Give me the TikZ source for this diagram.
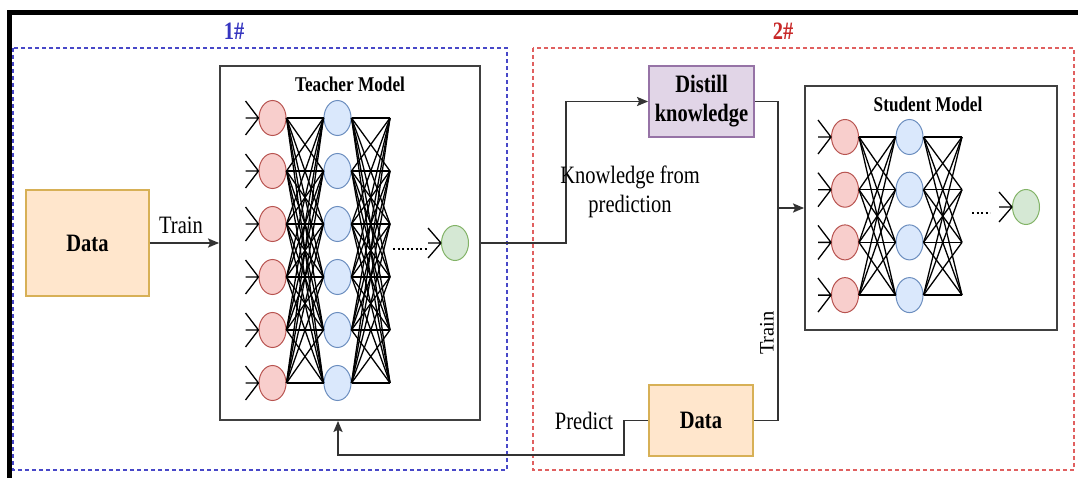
\documentclass[tikz,border=0pt]{standalone}
\usepackage{fontspec}
\setmainfont[FakeStretch=0.82]{Liberation Serif}
\usetikzlibrary{shapes.geometric,arrows.meta}

\definecolor{inFill}{HTML}{F8CECC}
\definecolor{inDraw}{HTML}{B85450}
\definecolor{hidFill}{HTML}{DAE8FC}
\definecolor{hidDraw}{HTML}{6C8EBF}
\definecolor{outFill}{HTML}{D5E8D4}
\definecolor{outDraw}{HTML}{82B366}
\definecolor{dataFill}{HTML}{FFE6CC}
\definecolor{dataDraw}{HTML}{D7B056}
\definecolor{distFill}{HTML}{E1D5E7}
\definecolor{distDraw}{HTML}{9673A6}
\definecolor{zoneBlue}{HTML}{4848C8}
\definecolor{zoneRed}{HTML}{E06060}
\definecolor{tagBlue}{HTML}{3535C0}
\definecolor{tagRed}{HTML}{C82828}

\tikzset{
  box/.style={draw=black!75, line width=1.8pt},
  conn/.style={draw=black!80, line width=1.8pt},
  arr/.style={conn, -{Stealth[length=11pt,width=9pt,inset=2pt]}},
  wire/.style={draw=black, line width=1.3pt},
  neuron/.style={ellipse, minimum width=27pt, minimum height=35pt, inner sep=0pt, line width=1pt},
  inn/.style={neuron, fill=inFill, draw=inDraw},
  hid/.style={neuron, fill=hidFill, draw=hidDraw},
  outn/.style={neuron, fill=outFill, draw=outDraw},
  dots/.style={line width=2.6pt, dash pattern=on 2.2pt off 2.3pt},
  lbl/.style={font=\fontsize{25}{29}\selectfont},
  blbl/.style={font=\bfseries\fontsize{25}{29}\selectfont},
  ttl/.style={font=\bfseries\fontsize{21}{24}\selectfont},
  zone/.style={line width=1.6pt, dash pattern=on 4pt off 3pt},
  tag/.style={font=\bfseries\fontsize{25}{28}\selectfont},
}

\begin{document}
\begin{tikzpicture}[x=1pt, y=-1pt]
\useasboundingbox (0,0) rectangle (1078,478);
\fill[white] (0,0) rectangle (1078,478);

% outer frame strokes (top and left)
\fill[black] (7,10) rectangle (1078,15);
\fill[black] (7,10) rectangle (12,478);

% stage zones
\draw[zone, draw=zoneBlue] (13,48) rectangle (507,470);
\draw[zone, draw=zoneRed] (533,48) rectangle (1074,470);
\node[tag, text=tagBlue] (tag1) at (234,31) {1\#};
\node[tag, text=tagRed] (tag2) at (783,31) {2\#};

% main blocks
\node[box, draw=dataDraw, fill=dataFill, minimum width=123pt, minimum height=106pt, inner sep=0pt, blbl] (data1) at (87.5,243) {Data};
\node[box, minimum width=260pt, minimum height=354pt, inner sep=0pt] (teacher) at (350,243) {};
\node[ttl] (tTitle) at (350,84) {Teacher Model};
\node[box, draw=distDraw, fill=distFill, minimum width=105pt, minimum height=71pt, inner sep=0pt, blbl, align=center] (distill) at (701.5,101.5) {Distill\\knowledge};
\node[box, minimum width=252pt, minimum height=244pt, inner sep=0pt] (student) at (931,208) {};
\node[ttl] (sTitle) at (928,104) {Student Model};
\node[box, draw=dataDraw, fill=dataFill, minimum width=104pt, minimum height=71pt, inner sep=0pt, blbl] (data2) at (701,420.5) {Data};

% teacher network
\foreach \i [evaluate=\i as \y using 118+53*(\i-1)] in {1,...,6} {
  \node[inn] (t-r-\i) at (272.5,\y) {};
  \node[hid] (t-b-\i) at (337.5,\y) {};
  \coordinate (t-h-\i) at (390,\y);
}
\foreach \i in {1,...,6} {
  \draw[wire] (t-r-\i.west) -- ++(-13,-17) (t-r-\i.west) -- ++(-13,0) (t-r-\i.west) -- ++(-13,17);
  \foreach \j in {1,...,6} {
    \draw[wire] (t-r-\i.east) -- (t-b-\j.west);
    \draw[wire] (t-b-\i.east) -- (t-h-\j);
  }
}
\coordinate (t-d1) at (393,249);
\coordinate (t-d2) at (428,249);
\draw[dots] (t-d1) -- (t-d2);
\node[outn] (t-o) at (455,243) {};
\draw[wire] (t-o.west) -- ++(-13,-15) (t-o.west) -- ++(-13,0) (t-o.west) -- ++(-13,15);

% student network
\foreach \i [evaluate=\i as \y using 137+52.7*(\i-1)] in {1,...,4} {
  \node[inn] (s-r-\i) at (845,\y) {};
  \node[hid] (s-b-\i) at (909.5,\y) {};
  \coordinate (s-h-\i) at (962,\y);
}
\foreach \i in {1,...,4} {
  \draw[wire] (s-r-\i.west) -- ++(-13,-17) (s-r-\i.west) -- ++(-13,0) (s-r-\i.west) -- ++(-13,17);
  \foreach \j in {1,...,4} {
    \draw[wire] (s-r-\i.east) -- (s-b-\j.west);
    \draw[wire] (s-b-\i.east) -- (s-h-\j);
  }
}
\coordinate (s-d1) at (972,213);
\coordinate (s-d2) at (990,213);
\draw[dots] (s-d1) -- (s-d2);
\node[outn] (s-o) at (1026,207) {};
\draw[wire] (s-o.west) -- ++(-13,-15) (s-o.west) -- ++(-13,0) (s-o.west) -- ++(-13,15);

% connectors
\draw[arr] (data1) -- (teacher);
\node[lbl, anchor=base] (trainA) at (181,234) {Train};

\coordinate (kx) at (566,243);
\draw[arr] (teacher.east) -- (kx) |- (distill.west);
\node[lbl, align=center] (knowFrom) at (630,192) {Knowledge from\\prediction};

\coordinate (jn) at (778,208);
\draw[conn] (distill.east) -| (jn);
\draw[conn] (data2.east) -| (jn);
\draw[arr] (jn) -- (student.west);
\node[lbl, rotate=90] (trainB) at (767,333) {\scalebox{1}[0.82]{Train}};

\coordinate (pb) at (624,455);
\coordinate (pt) at (338,455);
\draw[arr] (data2.west) -| (pb) -- (pt) -- (pt |- teacher.south);
\node[lbl] (predict) at (584,421) {Predict};
\end{tikzpicture}
\end{document}
